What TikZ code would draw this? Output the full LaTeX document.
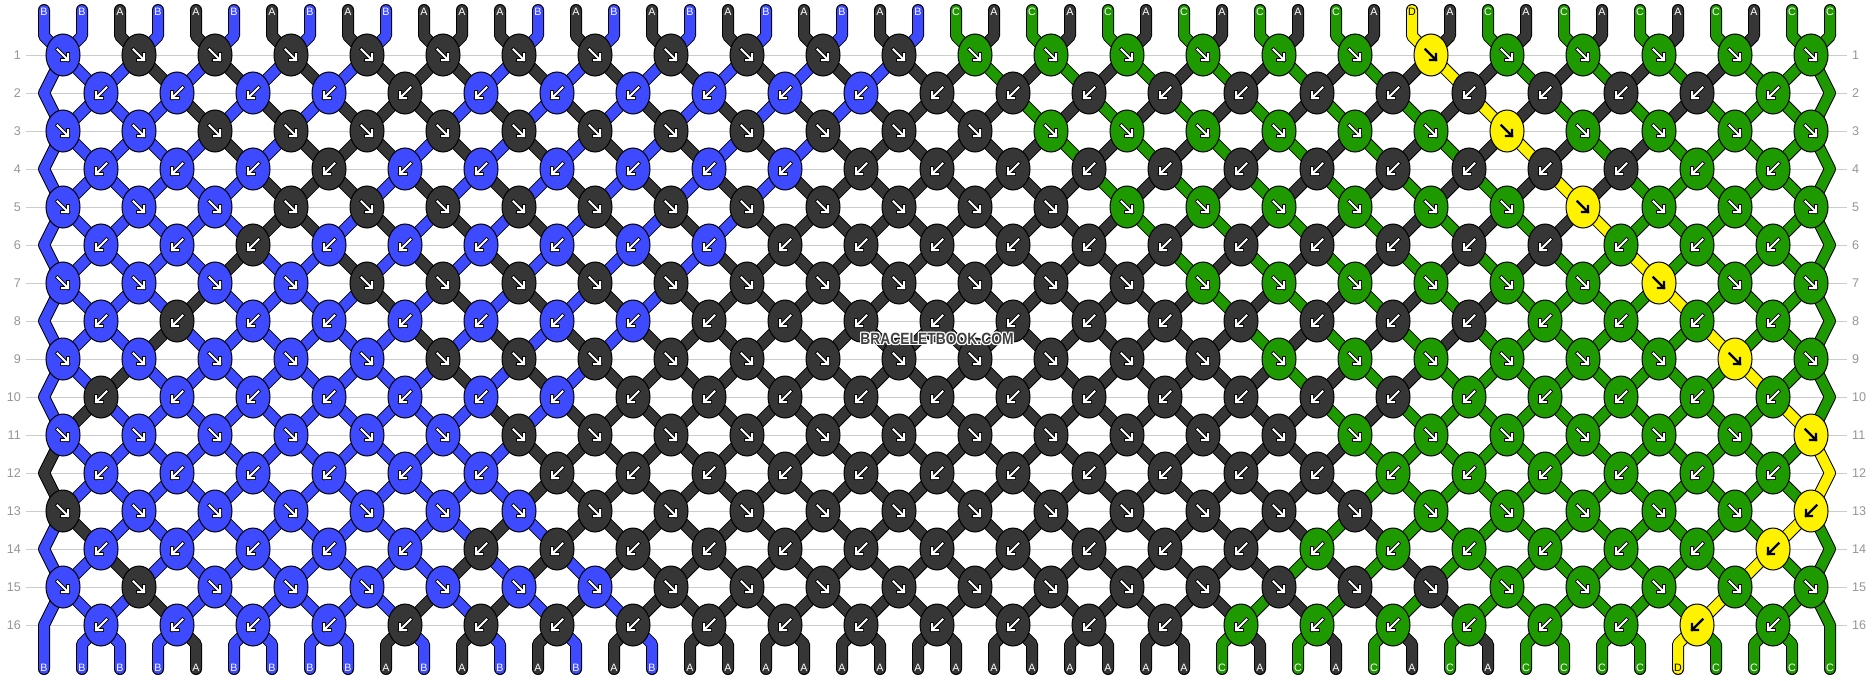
\documentclass[tikz,border=0pt]{standalone}
\usepackage{fontspec}
\setmainfont{Liberation Sans}
\usetikzlibrary{shapes.geometric}
\pgfdeclarelayer{bg}
\pgfsetlayers{bg,main}
\definecolor{colA}{RGB}{54,54,54}
\definecolor{colB}{RGB}{61,74,255}
\definecolor{colC}{RGB}{31,153,0}
\definecolor{colD}{RGB}{255,242,0}
\definecolor{rowgray}{RGB}{150,150,150}
\definecolor{linegray}{RGB}{204,204,204}
\definecolor{wmgray}{RGB}{64,64,64}
\def\txtA{white}\def\txtB{white}\def\txtC{white}\def\txtD{black}
\def\letterD{D}
% knots tied the other way round (backward knot in an odd row)
\expandafter\def\csname bbrev@13@24\endcsname{}
\def\bbappend#1#2{\expandafter\xdef\csname bbsp@#1\endcsname{\csname bbsp@#1\endcsname--(#2)}}
\def\initcols{B,B,A,B,A,B,A,B,A,B,A,A,A,B,A,B,A,B,A,B,A,B,A,B,C,A,C,A,C,A,C,A,C,A,C,A,D,A,C,A,C,A,C,A,C,A,C,C}
% ---- simulation of the knotting ----
\foreach \cl [count=\id] in \initcols {%
  \expandafter\xdef\csname bbsc@\id\endcsname{\cl}%
  \expandafter\xdef\csname bbps@\id\endcsname{\id}%
  \expandafter\xdef\csname bbsp@\id\endcsname{(t-\id)--(u-\id)}%
}
\foreach \rw in {1,...,16}{%
  \ifodd\rw\relax
    \foreach \kn in {1,...,24}{%
      \pgfmathtruncatemacro\pp{2*\kn-1}%
      \pgfmathtruncatemacro\qq{2*\kn}%
      \edef\sa{\csname bbps@\pp\endcsname}%
      \edef\sb{\csname bbps@\qq\endcsname}%
      \ifcsname bbrev@\rw @\kn\endcsname
        \expandafter\xdef\csname bbkc@\rw @\kn\endcsname{\csname bbsc@\sb\endcsname}%
      \else
        \expandafter\xdef\csname bbkc@\rw @\kn\endcsname{\csname bbsc@\sa\endcsname}%
      \fi
      \bbappend{\sa}{n-\rw-\kn.center}%
      \bbappend{\sb}{n-\rw-\kn.center}%
      \expandafter\xdef\csname bbps@\pp\endcsname{\sb}%
      \expandafter\xdef\csname bbps@\qq\endcsname{\sa}%
    }%
  \else
    \foreach \kn in {1,...,23}{%
      \pgfmathtruncatemacro\pp{2*\kn}%
      \pgfmathtruncatemacro\qq{2*\kn+1}%
      \edef\sa{\csname bbps@\pp\endcsname}%
      \edef\sb{\csname bbps@\qq\endcsname}%
      \ifcsname bbrev@\rw @\kn\endcsname
        \expandafter\xdef\csname bbkc@\rw @\kn\endcsname{\csname bbsc@\sa\endcsname}%
      \else
        \expandafter\xdef\csname bbkc@\rw @\kn\endcsname{\csname bbsc@\sb\endcsname}%
      \fi
      \bbappend{\sa}{n-\rw-\kn.center}%
      \bbappend{\sb}{n-\rw-\kn.center}%
      \expandafter\xdef\csname bbps@\pp\endcsname{\sb}%
      \expandafter\xdef\csname bbps@\qq\endcsname{\sa}%
    }%
    \edef\sa{\csname bbps@1\endcsname}\bbappend{\sa}{eL-\rw}%
    \edef\sb{\csname bbps@48\endcsname}\bbappend{\sb}{eR-\rw}%
  \fi
}
\foreach \pn in {1,...,48}{%
  \edef\sa{\csname bbps@\pn\endcsname}%
  \bbappend{\sa}{v-\pn}\bbappend{\sa}{w-\pn}%
  \expandafter\xdef\csname bbbl@\pn\endcsname{\csname bbsc@\sa\endcsname}%
}
\begin{document}
\begin{tikzpicture}[x=1pt,y=-1pt,
  knot/.style={ellipse, draw=black, line width=1pt, minimum width=34pt, minimum height=42pt, inner sep=0pt},
  strout/.style={line width=12pt, draw=black, line join=round, line cap=round},
  strin/.style={line width=10pt, line join=round, line cap=round},
  rownum/.style={text=rowgray, font=\fontsize{12.6}{14}\selectfont, inner sep=0pt},
  lbl/.style={font=\fontsize{10.7}{12}\selectfont, inner sep=0pt},
  arrout/.style={line width=3.6pt, draw=black, line cap=rect},
  arrin/.style={line width=2pt, draw=white, line cap=rect},
  arrblk/.style={line width=2.4pt, draw=black, line cap=rect},
  wm/.style={font=\bfseries\fontsize{16.3}{18}\selectfont, xscale=0.85, inner sep=0pt}]
\useasboundingbox (0,0) rectangle (1874,680);
% free ends and edge turning points
\foreach \id in {1,...,48}{%
  \pgfmathsetmacro\xx{44+38*(\id-1)}%
  \coordinate (t-\id) at (\xx,10);
  \coordinate (u-\id) at (\xx,36);
  \coordinate (v-\id) at (\xx,644);
  \coordinate (w-\id) at (\xx,669);
}
\foreach \rw in {2,4,...,16}{%
  \pgfmathsetmacro\yy{55+38*(\rw-1)}%
  \coordinate (eL-\rw) at (44,\yy);
  \coordinate (eR-\rw) at (1830,\yy);
}
% row numbers
\foreach \rw in {1,...,16}{%
  \pgfmathsetmacro\yy{55+38*(\rw-1)}%
  \node[rownum, anchor=east] (rl-\rw) at (21,\yy) {\rw};
  \node[rownum, anchor=west] (rr-\rw) at (1852,\yy) {\rw};
}
% knots
\foreach \rw in {1,...,16}{%
  \pgfmathsetmacro\yy{55+38*(\rw-1)}%
  \ifodd\rw\relax\def\nk{24}\def\xo{63}\else\def\nk{23}\def\xo{101}\fi
  \foreach \kn in {1,...,\nk}{%
    \pgfmathsetmacro\xx{\xo+76*(\kn-1)}%
    \edef\kc{\csname bbkc@\rw @\kn\endcsname}%
    \edef\kfill{col\kc}%
    \ifodd\rw\relax\def\dirse{1}\else\def\dirse{0}\fi
    \ifcsname bbrev@\rw @\kn\endcsname
      \if1\dirse\def\dirse{0}\else\def\dirse{1}\fi
    \fi
    \node[knot, fill=\kfill] (n-\rw-\kn) at (\xx,\yy) {};
    \if1\dirse
      \ifx\kc\letterD
        \draw[arrblk] (\xx-5.5,\yy-5.5) -- (\xx+5,\yy+5) (\xx+5,\yy-1) -- (\xx+5,\yy+5) -- (\xx-1,\yy+5);
      \else
        \draw[arrout] (\xx-5.5,\yy-5.5) -- (\xx+5,\yy+5) (\xx+5,\yy-1) -- (\xx+5,\yy+5) -- (\xx-1,\yy+5);
        \draw[arrin] (\xx-5.5,\yy-5.5) -- (\xx+5,\yy+5) (\xx+5,\yy-1) -- (\xx+5,\yy+5) -- (\xx-1,\yy+5);
      \fi
    \else
      \ifx\kc\letterD
        \draw[arrblk] (\xx+5.5,\yy-5.5) -- (\xx-5,\yy+5) (\xx-5,\yy-1) -- (\xx-5,\yy+5) -- (\xx+1,\yy+5);
      \else
        \draw[arrout] (\xx+5.5,\yy-5.5) -- (\xx-5,\yy+5) (\xx-5,\yy-1) -- (\xx-5,\yy+5) -- (\xx+1,\yy+5);
        \draw[arrin] (\xx+5.5,\yy-5.5) -- (\xx-5,\yy+5) (\xx-5,\yy-1) -- (\xx-5,\yy+5) -- (\xx+1,\yy+5);
      \fi
    \fi
  }
}
% string letters
\foreach \cl [count=\id] in \initcols {%
  \pgfmathsetmacro\xx{44+38*(\id-1)}%
  \edef\tc{\csname txt\cl\endcsname}%
  \node[lbl, text=\tc] (lt-\id) at (\xx,12) {\cl};
}
\foreach \id in {1,...,48}{%
  \pgfmathsetmacro\xx{44+38*(\id-1)}%
  \edef\bl{\csname bbbl@\id\endcsname}%
  \edef\tc{\csname txt\bl\endcsname}%
  \node[lbl, text=\tc] (lb-\id) at (\xx,668) {\bl};
}
% watermark
\foreach \dx/\dy [count=\id] in {-1/-1,0/-1,1/-1,-1/0,1/0,-1/1,0/1,1/1}{%
  \node[wm, text=white] (wmh-\id) at (937+\dx,339+\dy) {BRACELETBOOK.COM};
}
\node[wm, text=wmgray] (wm) at (937,339) {BRACELETBOOK.COM};
% background: guide lines and strings
\begin{pgfonlayer}{bg}
\fill[white] (0,0) rectangle (1874,680);
\foreach \rw in {1,...,16}{%
  \draw[linegray, line width=1pt, shorten <=5pt, shorten >=5pt] (rl-\rw.east) -- (rr-\rw.west);
}
\foreach \sn in {1,...,48}{%
  \edef\tmp{\noexpand\draw[strout] \csname bbsp@\sn\endcsname;}\tmp
}
\foreach \sn in {1,...,48}{%
  \edef\scol{col\csname bbsc@\sn\endcsname}%
  \edef\tmp{\noexpand\draw[strin, draw=\scol] \csname bbsp@\sn\endcsname;}\tmp
}
\end{pgfonlayer}
\end{tikzpicture}
\end{document}
